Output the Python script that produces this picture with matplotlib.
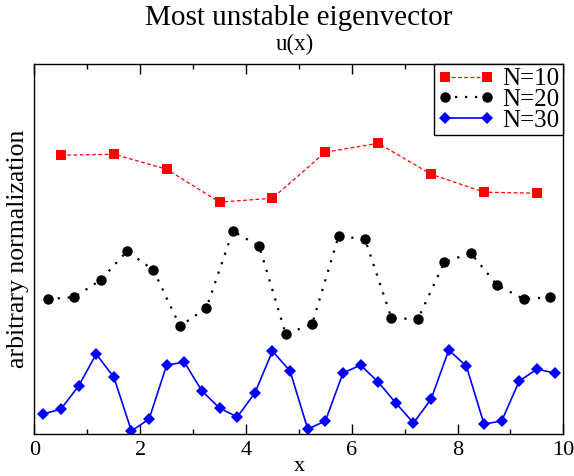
import numpy as np
import matplotlib
matplotlib.use("Agg")
import matplotlib.pyplot as plt
from matplotlib.ticker import MultipleLocator

plt.rcParams['font.family'] = ['Liberation Serif', 'DejaVu Serif']

# Data (arbitrary normalization)
x10 = [0.5, 1.5, 2.5, 3.5, 4.5, 5.5, 6.5, 7.5, 8.5, 9.5]
u10 = [2.79, 2.80, 2.65, 2.32, 2.36, 2.82, 2.91, 2.60, 2.42, 2.41]

x20 = [0.25, 0.75, 1.25, 1.75, 2.25, 2.75, 3.25, 3.75, 4.25, 4.75,
       5.25, 5.75, 6.25, 6.75, 7.25, 7.75, 8.25, 8.75, 9.25, 9.75]
u20 = [1.35, 1.37, 1.54, 1.83, 1.64, 1.08, 1.26, 2.03, 1.88, 1.00,
       1.10, 1.98, 1.95, 1.16, 1.15, 1.72, 1.81, 1.49, 1.35, 1.37]

x30 = [1/6, 0.5, 5/6, 7/6, 1.5, 11/6, 13/6, 2.5, 17/6, 19/6,
       3.5, 23/6, 25/6, 4.5, 29/6, 31/6, 5.5, 35/6, 37/6, 6.5,
       41/6, 43/6, 7.5, 47/6, 49/6, 8.5, 53/6, 55/6, 9.5, 59/6]
u30 = [0.20, 0.25, 0.48, 0.80, 0.57, 0.03, 0.15, 0.69, 0.72, 0.43,
       0.26, 0.17, 0.41, 0.83, 0.63, 0.05, 0.13, 0.61, 0.69, 0.52,
       0.31, 0.11, 0.35, 0.84, 0.68, 0.10, 0.13, 0.53, 0.65, 0.61]

labels = ['N=10', 'N=20', 'N=30']

fig = plt.figure(figsize=(5.74, 4.76), dpi=100)
ax = fig.add_axes([0.0601, 0.0882, 0.9213, 0.7767])

ax.plot(x10, u10, color='red', linestyle=(0, (3, 2)), linewidth=0.9,
        marker='s', markersize=6.5, markeredgewidth=0, label=labels[0])
ax.plot(x20, u20, color='black', linestyle=(0, (1, 3.5)), linewidth=1.6,
        marker='o', markersize=7.5, markeredgewidth=0, label=labels[1])
ax.plot(x30, u30, color='blue', linestyle='-', linewidth=1.2,
        marker='D', markersize=6.5, markeredgewidth=0, label=labels[2])

ax.set_xlim(0, 10)
ax.set_ylim(0, 3.70)
ax.xaxis.set_major_locator(MultipleLocator(2))
ax.xaxis.set_minor_locator(MultipleLocator(1))
ax.set_yticks([])
ax.tick_params(axis='x', which='both', direction='in', top=True, labelsize=16, pad=5)
ax.tick_params(axis='x', which='major', length=7, width=1)
ax.tick_params(axis='x', which='minor', length=3.5, width=1)
for s in ax.spines.values():
    s.set_linewidth(1.0)

ax.set_xlabel('x', fontsize=16, labelpad=-2)
ax.set_ylabel('arbitrary normalization', fontsize=18.5, labelpad=4)

fig.text(0.52, 0.962, 'Most unstable eigenvector', ha='center', va='center', fontsize=21)
fig.text(0.514, 0.906, 'u(x)', ha='center', va='center', fontsize=16.5)

leg = ax.legend(loc='upper right', fontsize=18, numpoints=2, handlelength=2.3,
                borderaxespad=0, fancybox=False, edgecolor='black', framealpha=1,
                handletextpad=0.3, labelspacing=-0.05, borderpad=0.15,
                handleheight=0.6)
leg.get_frame().set_linewidth(1.0)

fig.savefig('out.png', dpi=100)
